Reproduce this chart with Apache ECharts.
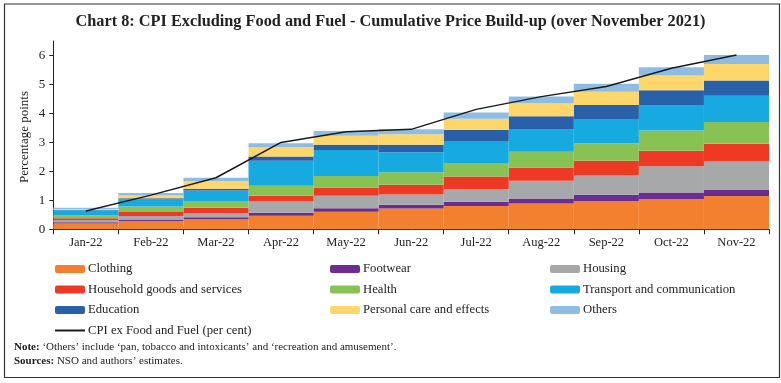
<!DOCTYPE html>
<html>
<head>
<meta charset="utf-8">
<script src="https://cdn.jsdelivr.net/npm/echarts@6/dist/echarts.min.js"></script>
<style>
html,body{margin:0;padding:0;background:#fff;}
#c{width:781px;height:383px;}
</style>
</head>
<body>
<div id="c"></div>
<script>
var categories = ['Jan-22','Feb-22','Mar-22','Apr-22','May-22','Jun-22','Jul-22','Aug-22','Sep-22','Oct-22','Nov-22'];
var clothing   = [0.20,0.29,0.35,0.47,0.61,0.72,0.80,0.89,0.98,1.05,1.15];
var footwear   = [0.04,0.03,0.07,0.10,0.12,0.13,0.15,0.17,0.21,0.22,0.21];
var housing    = [0.08,0.14,0.13,0.39,0.43,0.35,0.44,0.62,0.68,0.91,0.98];
var household  = [0.06,0.14,0.19,0.20,0.28,0.34,0.43,0.45,0.50,0.53,0.61];
var health     = [0.10,0.19,0.24,0.34,0.40,0.43,0.47,0.55,0.60,0.70,0.75];
var transport  = [0.18,0.24,0.36,0.87,0.90,0.69,0.76,0.78,0.84,0.88,0.91];
var education  = [0.01,0.04,0.06,0.14,0.18,0.26,0.38,0.44,0.48,0.51,0.53];
var personal   = [0.03,0.10,0.26,0.32,0.31,0.36,0.39,0.45,0.46,0.51,0.57];
var others     = [0.04,0.08,0.12,0.14,0.16,0.17,0.21,0.23,0.27,0.28,0.31];
var cpiExFF    = [0.63,1.18,1.78,3.00,3.37,3.45,4.14,4.58,4.93,5.56,6.02];
var yTicks     = [0,1,2,3,4,5,6];

var FONT = '"Liberation Serif", "DejaVu Serif", serif';
var LINE_NAME = 'CPI ex Food and Fuel (per cent)';
var barSeries = [
  {name:'Clothing', data:clothing, color:'#F2802E'},
  {name:'Footwear', data:footwear, color:'#6B2D90'},
  {name:'Housing', data:housing, color:'#A7A8AA'},
  {name:'Household goods and services', data:household, color:'#EE3A24'},
  {name:'Health', data:health, color:'#88C255'},
  {name:'Transport and communication', data:transport, color:'#16AAE1'},
  {name:'Education', data:education, color:'#2861A9'},
  {name:'Personal care and effects', data:personal, color:'#FED66A'},
  {name:'Others', data:others, color:'#8EBDE3'}
];
var series = barSeries.map(function(s){
  return {name:s.name, type:'bar', stack:'t', data:s.data, barCategoryGap:'0%',
          itemStyle:{color:s.color}, emphasis:{disabled:true}};
});
series.push({name:LINE_NAME, type:'line', data:cpiExFF,
  symbol:'none', lineStyle:{color:'#1a1a1a', width:1.5}, itemStyle:{color:'#1a1a1a'}, z:5});

var legendCommon = {orient:'vertical', itemWidth:30, itemHeight:8, itemGap:7.5,
  textStyle:{fontFamily:FONT, fontSize:12.7, color:'#222', lineHeight:13, padding:[0,0,0,-2]},
  selectedMode:false, padding:0};

var chart = echarts.init(document.getElementById('c'), null, {renderer:'canvas'});
chart.setOption({
  animation:false,
  backgroundColor:'#fff',
  title:{text:'Chart 8: CPI Excluding Food and Fuel - Cumulative Price Build-up (over November 2021)',
    left:'center', top:9, textStyle:{fontFamily:FONT, fontSize:16.3, fontWeight:'bold', color:'#222'}},
  grid:{left:53.3, right:12, top:41, bottom:153.7, containLabel:false},
  legend:[
    Object.assign({left:54, top:262.5, data:['Clothing','Household goods and services','Education',
      {name:LINE_NAME, itemStyle:{opacity:0, borderWidth:0}}]}, legendCommon),
    Object.assign({left:330, top:262.5, data:['Footwear','Health','Personal care and effects']}, legendCommon),
    Object.assign({left:550, top:262.5, data:['Housing','Transport and communication','Others']}, legendCommon)
  ],
  xAxis:{type:'category', data:categories,
    axisLine:{lineStyle:{color:'#222', width:1}},
    axisTick:{show:true, length:5, lineStyle:{color:'#222'}},
    axisLabel:{fontFamily:FONT, fontSize:12.5, color:'#222', margin:7}},
  yAxis:{type:'value', min:0, max:6.5,
    axisLine:{show:true, lineStyle:{color:'#222', width:1}},
    axisTick:{show:true, length:4, customValues:yTicks, lineStyle:{color:'#222'}},
    axisLabel:{fontFamily:FONT, fontSize:13, color:'#222', margin:8, customValues:yTicks},
    splitLine:{show:false}},
  series:series,
  graphic:[
    {type:'rect', left:2, top:1.5, shape:{x:0,y:0,width:775,height:373.5},
      style:{fill:'none', stroke:'#333', lineWidth:1.2}, silent:true, z:100},
    {type:'text', x:25, y:137, rotation:Math.PI/2,
      style:{text:'Percentage points', fontFamily:FONT, fontSize:13, fill:'#222',
        align:'center', verticalAlign:'middle'}},
    {type:'text', left:14, top:342,
      style:{text:'{b|Note:} \u2018Others\u2019 include \u2018pan, tobacco and intoxicants\u2019 and \u2018recreation and amusement\u2019.',
        fontFamily:FONT, fontSize:11, fill:'#222',
        rich:{b:{fontFamily:FONT, fontSize:11, fontWeight:'bold', fill:'#222'}}}},
    {type:'text', left:14, top:356,
      style:{text:'{b|Sources:} NSO and authors\u2019 estimates.',
        fontFamily:FONT, fontSize:11, fill:'#222',
        rich:{b:{fontFamily:FONT, fontSize:11, fontWeight:'bold', fill:'#222'}}}}
  ]
});
</script>
</body>
</html>
